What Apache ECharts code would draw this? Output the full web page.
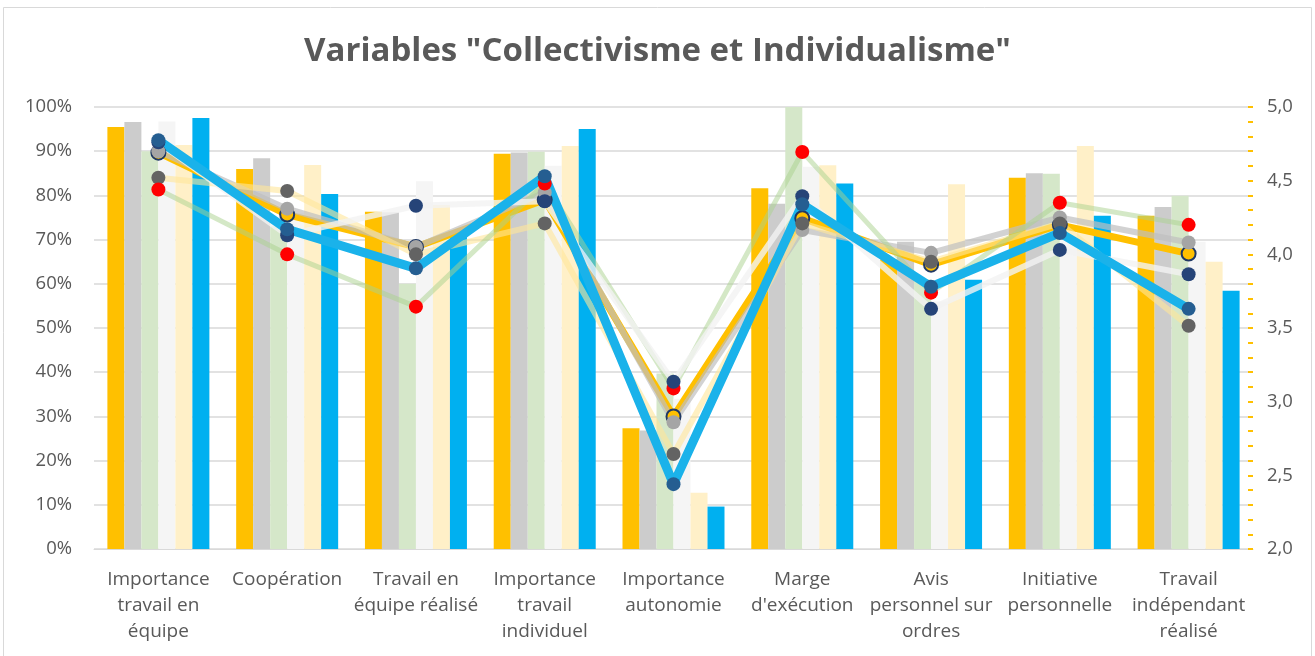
<!DOCTYPE html>
<html>
<head>
<meta charset="utf-8">
<script src="https://cdn.jsdelivr.net/npm/echarts@6/dist/echarts.min.js"></script>
<style>
  html, body { margin: 0; padding: 0; background: #fff; }
  #chart { width: 1315px; height: 656px; }
</style>
</head>
<body>
<div id="chart"></div>
<script>
// catégories (axe x)
const categories = [
  'Importance\ntravail en\néquipe',
  'Coopération',
  'Travail en\néquipe réalisé',
  'Importance\ntravail\nindividuel',
  'Importance\nautonomie',
  'Marge\nd\'exécution',
  'Avis\npersonnel sur\nordres',
  'Initiative\npersonnelle',
  'Travail\nindépendant\nréalisé'
];

// barres - axe gauche (%)
const barOrange = [95.5, 86.0, 76.3, 89.4, 27.3, 81.6, 65.5, 84.0, 75.4];
const barGray = [96.6, 88.4, 76.2, 89.7, 26.8, 78.1, 69.5, 85.0, 77.4];
const barGreen = [90.0, 73.0, 60.0, 89.9, 39.7, 100.0, 61.0, 84.9, 79.9];
const barLight = [96.7, 76.0, 83.2, 86.7, 34.0, 86.5, 56.0, 70.0, 69.5];
const barYellow = [91.4, 86.9, 77.8, 91.2, 12.7, 86.8, 82.5, 91.2, 65.0];
const barBlue = [97.5, 80.3, 70.7, 95.0, 9.6, 82.7, 60.9, 75.4, 58.4];

// lignes - axe droit (2,0 - 5,0)
const lineOrange = [4.69, 4.27, 4.05, 4.37, 2.90, 4.245, 3.93, 4.20, 4.005];
const lineGray = [4.70, 4.31, 4.05, 4.42, 2.86, 4.165, 4.01, 4.25, 4.08];
const lineYellow = [4.52, 4.43, 4.00, 4.21, 2.645, 4.21, 3.95, 4.21, 3.515];
const lineGreen = [4.44, 4.00, 3.645, 4.48, 3.09, 4.695, 3.74, 4.35, 4.20];
const lineLight = [4.76, 4.13, 4.33, 4.36, 3.135, 4.395, 3.63, 4.03, 3.865];
const lineBlue = [4.775, 4.17, 3.905, 4.53, 2.44, 4.34, 3.78, 4.145, 3.63];

const textColor = '#595959';
const font = 'Open Sans';

function bar(name, data, color) {
  return {
    name: name,
    type: 'bar',
    yAxisIndex: 0,
    data: data,
    barWidth: 17,
    barGap: '0%',
    z: 1,
    itemStyle: { color: color }
  };
}

function line(name, data, color, width, opacity, marker, border) {
  return {
    name: name,
    type: 'line',
    yAxisIndex: 1,
    data: data,
    z: 3,
    symbol: 'circle',
    symbolSize: 14,
    lineStyle: { color: color, width: width, opacity: opacity, join: 'round' },
    itemStyle: {
      color: marker,
      borderColor: border || marker,
      borderWidth: border ? 2 : 0
    }
  };
}

const chart = echarts.init(document.getElementById('chart'), null, { renderer: 'canvas' });

const option = {
  animation: false,
  backgroundColor: '#fff',
  title: {
    text: 'Variables "Collectivisme et Individualisme"',
    left: 'center',
    top: 30,
    textStyle: { fontFamily: font, fontSize: 33, fontWeight: 'bold', color: textColor }
  },
  graphic: [{
    type: 'rect',
    shape: { x: 3.5, y: 7.5, width: 1308, height: 660 },
    style: { fill: 'none', stroke: '#D9D9D9', lineWidth: 1 },
    silent: true
  }],
  grid: { left: 94, right: 62, top: 107, bottom: 107 },
  xAxis: {
    type: 'category',
    data: categories,
    axisLine: { lineStyle: { color: '#D9D9D9', width: 1 } },
    axisTick: { show: false },
    axisLabel: {
      color: textColor,
      fontFamily: font,
      fontSize: 19,
      lineHeight: 26,
      margin: 18,
      interval: 0
    }
  },
  yAxis: [{
    type: 'value',
    min: 0,
    max: 100,
    interval: 10,
    axisLine: { show: false },
    axisTick: { show: false },
    axisLabel: {
      color: textColor,
      fontFamily: font,
      fontSize: 18.5,
      margin: 22,
      formatter: v => v + '%'
    },
    splitLine: { lineStyle: { color: '#D9D9D9', width: 1.5 } }
  }, {
    type: 'value',
    min: 2,
    max: 5,
    interval: 0.5,
    position: 'right',
    axisLine: { show: false },
    axisTick: { show: true, inside: true, length: 5, lineStyle: { color: '#FFC000', width: 2 } },
    minorTick: { show: true, splitNumber: 5, length: 5, lineStyle: { color: '#FFC000', width: 2 } },
    splitLine: { show: false },
    axisLabel: {
      color: textColor,
      fontFamily: font,
      fontSize: 18.5,
      margin: 14,
      formatter: v => v.toFixed(1).replace('.', ',')
    }
  }],
  series: [
    bar('b1', barOrange, '#FFC000'),
    bar('b2', barGray, '#CCCCCC'),
    bar('b3', barGreen, '#D5E7C9'),
    bar('b4', barLight, '#F5F5F5'),
    bar('b5', barYellow, '#FFF0C8'),
    bar('b6', barBlue, '#00B0F0'),
    line('l1', lineOrange, '#FFC000', 7, 1, '#FFC000', '#1F3864'),
    line('l2', lineGray, '#BFBFBF', 6, 0.7, '#A5A5A5'),
    line('l3', lineYellow, '#FFE699', 6, 0.6, '#636363'),
    line('l4', lineGreen, '#A9D18E', 5, 0.5, '#FF0000'),
    line('l5', lineLight, '#F2F2F2', 6, 0.8, '#264478'),
    line('l6', lineBlue, '#1AB2EA', 9, 1, '#255E91')
  ]
};

chart.setOption(option);
</script>
</body>
</html>
